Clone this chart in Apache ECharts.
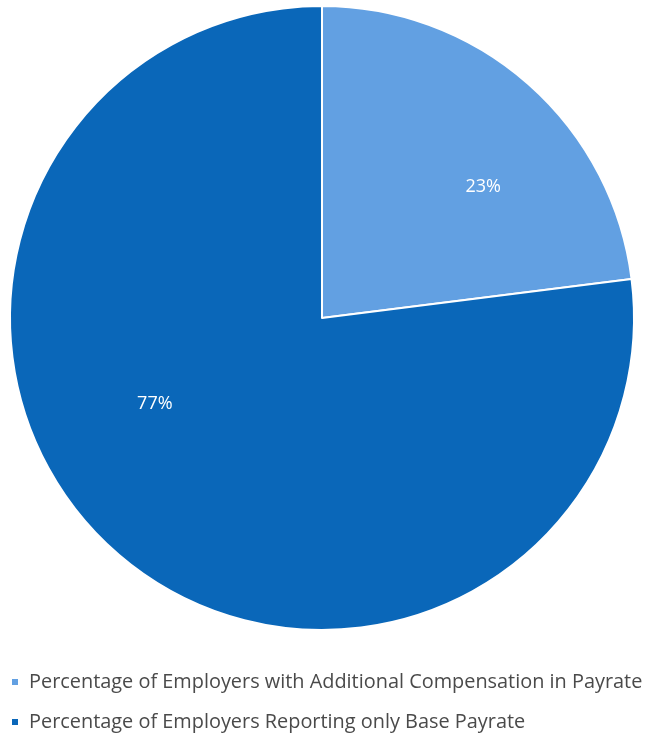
<!DOCTYPE html>
<html>
<head>
<meta charset="utf-8">
<script src="https://cdn.jsdelivr.net/npm/echarts@6/dist/echarts.min.js"></script>
<style>
html,body{margin:0;padding:0;background:#fff;}
#chart{width:647px;height:736px;}
</style>
</head>
<body>
<div id="chart"></div>
<script>
const categories = [
  'Percentage of Employers with Additional Compensation in Payrate',
  'Percentage of Employers Reporting only Base Payrate'
];
const values = [23, 77];
const colors = ['#62a0e2', '#0a67b9'];
const labelOffsets = [[56, -12], [-62, -33]];

const chart = echarts.init(document.getElementById('chart'));
chart.setOption({
  backgroundColor: '#ffffff',
  animation: false,
  color: colors,
  legend: {
    orient: 'vertical',
    left: 10,
    top: 672,
    padding: 0,
    itemWidth: 8,
    itemHeight: 8,
    itemGap: 20,
    icon: 'rect',
    textStyle: { fontFamily: 'Open Sans', fontSize: 19.9, lineHeight: 20, color: '#4a4a4a', padding: [0, 0, 0, 5] },
    data: categories
  },
  series: [{
    type: 'pie',
    center: [322, 318],
    radius: [0, 312],
    startAngle: 90,
    clockwise: true,
    itemStyle: { borderColor: '#ffffff', borderWidth: 2 },
    label: {
      position: 'inside',
      formatter: '{d}%',
      color: '#ffffff',
      fontFamily: 'Open Sans',
      fontSize: 18
    },
    labelLine: { show: false },
    data: categories.map((c, i) => ({ name: c, value: values[i], label: { offset: labelOffsets[i] } }))
  }]
});
</script>
</body>
</html>
